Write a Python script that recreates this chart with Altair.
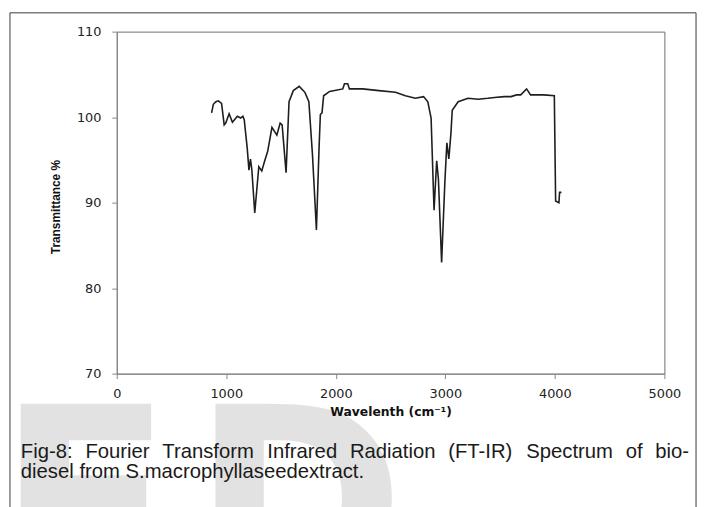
import altair as alt
import pandas as pd

# Spectrum
wavenumber = [866, 882, 905, 927, 957, 981, 995, 1026, 1056, 1075, 1101, 1131, 1152, 1164,
              1191, 1207, 1221, 1233, 1260, 1297, 1324, 1351, 1378, 1417, 1462, 1492, 1510,
              1546, 1573, 1612, 1666, 1718, 1754, 1787, 1823, 1847, 1859, 1874, 1889, 1943,
              2064, 2079, 2109, 2124, 2244, 2394, 2545, 2635, 2726, 2801, 2840, 2870, 2897,
              2921, 2937, 2966, 2996, 3014, 3032, 3051, 3063, 3117, 3207, 3300, 3387, 3450,
              3538, 3600, 3650, 3688, 3742, 3778, 3899, 3995, 4007, 4037, 4043, 4060]
transmittance = [100.5, 101.5, 101.8, 101.9, 101.6, 99.1, 99.3, 100.4, 99.4, 99.7, 100.1, 99.9,
                 100.1, 99.7, 96.4, 93.8, 95.1, 93.9, 88.8, 94.2, 93.7, 94.9, 96.0, 98.8, 97.9,
                 99.3, 99.1, 93.5, 101.8, 103.1, 103.6, 102.9, 101.8, 95.6, 86.8, 96.4, 100.3,
                 100.5, 102.5, 103.0, 103.3, 103.9, 103.9, 103.3, 103.3, 103.1, 102.9, 102.5,
                 102.2, 102.4, 101.8, 99.9, 89.1, 94.9, 92.7, 83.0, 92.5, 97.0, 95.1, 98.1,
                 100.8, 101.8, 102.2, 102.1, 102.2, 102.3, 102.4, 102.4, 102.6, 102.6, 103.3,
                 102.6, 102.6, 102.5, 90.2, 90.0, 91.2, 91.2]

x_ticks = [0, 1000, 2000, 3000, 4000, 5000]
y_ticks = [70, 80, 90, 100, 110]

caption_line1 = "Fig-8: Fourier Transform Infrared Radiation (FT-IR) Spectrum of bio-"
caption_line2 = "diesel from S.macrophyllaseedextract."
watermark = ["E", "D"]

df = pd.DataFrame({"wn": wavenumber, "t": transmittance})
one = pd.DataFrame({"k": [0]})

W, H = 554, 346
PX0, PY0 = 118, 29   # page position of the plot's top-left corner
SANS = "Liberation Sans, Arial, sans-serif"
CAP_SIZE = 20.5
CAP_LEFT, CAP_RIGHT = 21, 697

# Arial / Liberation Sans advance widths (1/1000 em) to justify the first caption line
ADV = {" ": 278, "F": 611, "i": 222, "g": 556, "-": 333, "8": 556, ":": 278, "o": 556,
       "u": 556, "r": 333, "e": 556, "T": 611, "a": 556, "n": 556, "s": 500, "f": 278,
       "m": 833, "I": 278, "d": 556, "R": 722, "t": 278, "(": 333, ")": 333, "S": 667,
       "p": 556, "c": 500, "b": 556}


def width(word):
    return sum(ADV.get(ch, 556) for ch in word) * CAP_SIZE / 1000.0


words = caption_line1.split(" ")
total = sum(width(w) for w in words)
gap = (CAP_RIGHT - CAP_LEFT - total) / (len(words) - 1)
word_left = []
pos = CAP_LEFT
for w in words:
    word_left.append(pos)
    pos += width(w) + gap


def text_layer(s, x, y, **kw):
    return alt.Chart(pd.DataFrame({"s": [s]})).mark_text(**kw).encode(
        x=alt.value(x - PX0), y=alt.value(y - PY0), text="s:N")


layers = []
for letter, left in zip(watermark, [-3, 194]):
    layers.append(text_layer(letter, left, 595, font="DejaVu Sans", fontWeight="bold",
                             fontSize=260, color="#e2e2e2", align="left",
                             baseline="alphabetic"))

for w, left in zip(words, word_left):
    layers.append(text_layer(w, left, 460, font=SANS, fontSize=CAP_SIZE,
                             color="#1a1a1a", align="left", baseline="alphabetic"))
layers.append(text_layer(caption_line2, CAP_LEFT, 481, font=SANS, fontSize=CAP_SIZE,
                         color="#1a1a1a", align="left", baseline="alphabetic"))

frame = alt.Chart(one).mark_rect(fillOpacity=0, stroke="#3a3a3a", strokeWidth=1).encode(
    x=alt.value(10 - PX0), x2=alt.value(704 - PX0), y=alt.value(10 - PY0), y2=alt.value(530 - PY0)
)
layers.append(frame)

line = alt.Chart(df).mark_line(color="#1e1e1e", strokeWidth=1.6, interpolate="linear").encode(
    x=alt.X("wn:Q",
            scale=alt.Scale(domain=[0, 5000], nice=False, zero=False),
            axis=alt.Axis(values=x_ticks, format="d", title="Wavelenth (cm⁻¹)", grid=False,
                          labelFont="DejaVu Sans", labelFontSize=13, labelColor="#222222",
                          labelFlush=False, labelPadding=9, tickSize=5,
                          tickColor="#868686", domainColor="#868686",
                          titleFont="DejaVu Sans", titleFontSize=12.5,
                          titleFontWeight="bold", titleColor="#111111",
                          titleY=38, titleBaseline="middle", zindex=1)),
    y=alt.Y("t:Q",
            scale=alt.Scale(domain=[70, 110], nice=False, zero=False),
            axis=alt.Axis(values=y_ticks, format="d", title="Transmittance %", grid=False,
                          labelFont="DejaVu Sans", labelFontSize=13, labelColor="#222222",
                          labelPadding=11, tickSize=5,
                          tickColor="#868686", domainColor="#868686",
                          titleFont=SANS, titleFontSize=12, titleFontWeight="bold",
                          titleColor="#111111", titleX=-62, titleY=177,
                          titleBaseline="middle", titleAngle=270, zindex=1)),
    order=alt.Order("wn:Q")
)
layers.append(line)

chart = alt.layer(*layers).properties(
    width=W, height=H,
    autosize=alt.AutoSizeParams(type="none"),
    padding={"left": 110, "top": 21, "right": 35, "bottom": 132},
    background="white"
).configure_view(stroke="#6e6e6e", strokeWidth=1)

chart.save("out.html", embed_options={"renderer": "svg", "actions": False})
